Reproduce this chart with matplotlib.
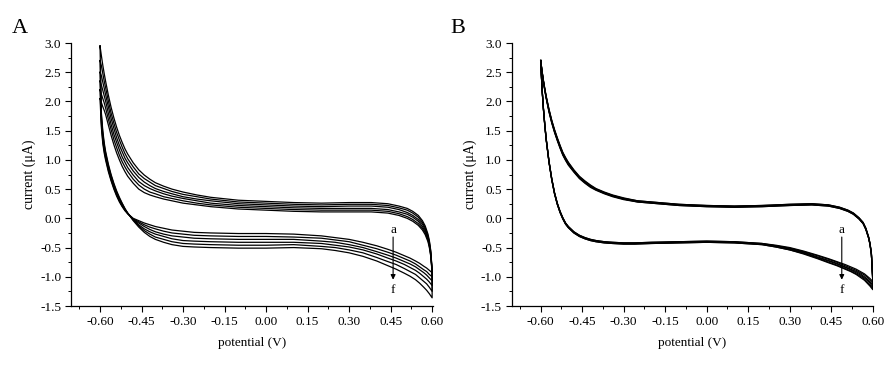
import numpy as np
import matplotlib.pyplot as plt
from matplotlib.ticker import MultipleLocator, FormatStrFormatter

plt.rcParams['font.family'] = ['Liberation Serif', 'DejaVu Serif']
plt.rcParams['axes.unicode_minus'] = False

# potential sampling of the forward (upper) and reverse (lower) sweeps, V
up_x = [-0.600, -0.595, -0.590, -0.585, -0.580, -0.570, -0.560, -0.550, -0.540, -0.530,
        -0.520, -0.510, -0.500, -0.480, -0.460, -0.440, -0.420, -0.400, -0.370, -0.340,
        -0.300, -0.250, -0.200, -0.100, 0.000, 0.100, 0.200, 0.300, 0.380, 0.440,
        0.480, 0.510, 0.530, 0.550, 0.565, 0.575, 0.585, 0.590, 0.595, 0.600]
low_x = [0.600, 0.590, 0.580, 0.570, 0.555, 0.540, 0.520, 0.500, 0.470, 0.440,
         0.400, 0.350, 0.300, 0.250, 0.200, 0.100, 0.000, -0.100, -0.200, -0.260,
         -0.300, -0.340, -0.370, -0.400, -0.420, -0.440, -0.460, -0.480, -0.500, -0.510,
         -0.520, -0.530, -0.540, -0.550, -0.560, -0.570, -0.580, -0.585, -0.590, -0.595, -0.600]

# panel A, current (uA) for curves a..f
A_up = [
    [2.05, 1.98, 1.91, 1.85, 1.78, 1.60, 1.42, 1.26, 1.12, 1.00, 0.89, 0.80, 0.72, 0.60, 0.50, 0.44, 0.40, 0.37, 0.33, 0.30,
     0.26, 0.23, 0.20, 0.16, 0.14, 0.12, 0.11, 0.11, 0.11, 0.09, 0.05, 0.00, -0.05, -0.12, -0.20, -0.28, -0.40, -0.50, -0.65, -0.93],
    [2.20, 2.12, 2.05, 1.98, 1.89, 1.70, 1.52, 1.35, 1.21, 1.08, 0.97, 0.88, 0.80, 0.67, 0.57, 0.50, 0.45, 0.42, 0.37, 0.34,
     0.30, 0.26, 0.23, 0.19, 0.17, 0.15, 0.14, 0.14, 0.14, 0.12, 0.08, 0.03, -0.02, -0.09, -0.17, -0.25, -0.37, -0.48, -0.63, -0.92],
    [2.35, 2.28, 2.19, 2.10, 2.01, 1.80, 1.61, 1.44, 1.30, 1.17, 1.05, 0.96, 0.87, 0.74, 0.63, 0.56, 0.51, 0.47, 0.42, 0.38,
     0.34, 0.30, 0.26, 0.22, 0.20, 0.18, 0.17, 0.17, 0.17, 0.15, 0.11, 0.07, 0.02, -0.05, -0.14, -0.22, -0.35, -0.45, -0.61, -0.91],
    [2.50, 2.44, 2.33, 2.23, 2.12, 1.91, 1.71, 1.54, 1.38, 1.25, 1.14, 1.03, 0.95, 0.81, 0.70, 0.62, 0.56, 0.51, 0.46, 0.42,
     0.37, 0.33, 0.30, 0.25, 0.23, 0.21, 0.20, 0.21, 0.21, 0.19, 0.15, 0.10, 0.05, -0.02, -0.10, -0.19, -0.32, -0.43, -0.59, -0.90],
    [2.70, 2.61, 2.48, 2.35, 2.24, 2.01, 1.80, 1.63, 1.47, 1.34, 1.22, 1.11, 1.02, 0.88, 0.76, 0.68, 0.62, 0.56, 0.51, 0.46,
     0.41, 0.37, 0.33, 0.28, 0.26, 0.24, 0.23, 0.24, 0.24, 0.22, 0.18, 0.14, 0.09, 0.02, -0.07, -0.16, -0.30, -0.40, -0.57, -0.89],
    [2.95, 2.78, 2.62, 2.48, 2.35, 2.11, 1.90, 1.72, 1.56, 1.42, 1.30, 1.19, 1.10, 0.95, 0.83, 0.74, 0.67, 0.61, 0.55, 0.50,
     0.45, 0.40, 0.36, 0.31, 0.29, 0.27, 0.26, 0.27, 0.27, 0.25, 0.21, 0.17, 0.12, 0.05, -0.04, -0.13, -0.27, -0.38, -0.55, -0.88],
]
A_low = [
    [-0.93, -0.89, -0.85, -0.82, -0.77, -0.73, -0.68, -0.64, -0.58, -0.53, -0.47, -0.41, -0.36, -0.33, -0.30, -0.27, -0.26, -0.26, -0.25, -0.24,
     -0.22, -0.20, -0.17, -0.14, -0.11, -0.08, -0.04, 0.00, 0.08, 0.13, 0.20, 0.28, 0.38, 0.50, 0.64, 0.80, 1.00, 1.12, 1.28, 1.55, 2.05],
    [-1.00, -0.96, -0.91, -0.88, -0.83, -0.78, -0.73, -0.69, -0.63, -0.58, -0.52, -0.46, -0.40, -0.37, -0.34, -0.32, -0.31, -0.31, -0.30, -0.29,
     -0.27, -0.25, -0.22, -0.18, -0.15, -0.11, -0.06, -0.01, 0.08, 0.14, 0.21, 0.30, 0.40, 0.52, 0.66, 0.83, 1.03, 1.16, 1.32, 1.60, 2.20],
    [-1.07, -1.02, -0.97, -0.93, -0.88, -0.83, -0.78, -0.74, -0.68, -0.63, -0.57, -0.50, -0.45, -0.41, -0.39, -0.36, -0.36, -0.36, -0.35, -0.34,
     -0.32, -0.30, -0.27, -0.23, -0.19, -0.14, -0.08, -0.02, 0.08, 0.15, 0.22, 0.31, 0.42, 0.54, 0.68, 0.85, 1.06, 1.19, 1.37, 1.65, 2.35],
    [-1.15, -1.09, -1.04, -1.00, -0.94, -0.89, -0.84, -0.79, -0.73, -0.68, -0.61, -0.54, -0.49, -0.46, -0.43, -0.41, -0.41, -0.41, -0.40, -0.39,
     -0.38, -0.35, -0.31, -0.27, -0.23, -0.18, -0.11, -0.02, 0.09, 0.15, 0.24, 0.33, 0.43, 0.56, 0.71, 0.88, 1.09, 1.23, 1.41, 1.70, 2.50],
    [-1.25, -1.18, -1.12, -1.08, -1.02, -0.96, -0.91, -0.86, -0.79, -0.74, -0.67, -0.59, -0.54, -0.50, -0.48, -0.45, -0.46, -0.46, -0.45, -0.44,
     -0.43, -0.40, -0.36, -0.32, -0.27, -0.21, -0.13, -0.03, 0.09, 0.16, 0.25, 0.34, 0.45, 0.58, 0.73, 0.90, 1.12, 1.26, 1.46, 1.75, 2.70],
    [-1.36, -1.29, -1.23, -1.18, -1.11, -1.05, -0.99, -0.94, -0.87, -0.81, -0.73, -0.65, -0.59, -0.55, -0.52, -0.50, -0.51, -0.51, -0.50, -0.49,
     -0.48, -0.45, -0.41, -0.36, -0.31, -0.24, -0.15, -0.04, 0.09, 0.17, 0.26, 0.36, 0.47, 0.60, 0.75, 0.93, 1.15, 1.30, 1.50, 1.80, 2.95],
]

# panel B, current (uA) for curves a..f
B_up = [
    [2.70, 2.50, 2.33, 2.18, 2.05, 1.82, 1.63, 1.47, 1.33, 1.20, 1.08, 0.99, 0.91, 0.79, 0.68, 0.60, 0.53, 0.48, 0.42, 0.37,
     0.32, 0.28, 0.26, 0.22, 0.20, 0.19, 0.20, 0.22, 0.23, 0.21, 0.17, 0.12, 0.07, -0.01, -0.09, -0.19, -0.34, -0.45, -0.62, -1.00],
    [2.70, 2.50, 2.34, 2.19, 2.06, 1.83, 1.64, 1.48, 1.34, 1.21, 1.09, 1.00, 0.92, 0.80, 0.69, 0.61, 0.54, 0.49, 0.43, 0.38,
     0.33, 0.28, 0.26, 0.22, 0.20, 0.19, 0.20, 0.22, 0.23, 0.21, 0.17, 0.12, 0.07, -0.01, -0.09, -0.19, -0.34, -0.45, -0.62, -1.02],
    [2.70, 2.51, 2.34, 2.20, 2.07, 1.84, 1.65, 1.49, 1.35, 1.22, 1.10, 1.01, 0.93, 0.81, 0.70, 0.62, 0.55, 0.49, 0.43, 0.38,
     0.33, 0.29, 0.27, 0.23, 0.21, 0.20, 0.21, 0.23, 0.24, 0.22, 0.18, 0.13, 0.08, 0.00, -0.08, -0.18, -0.33, -0.44, -0.61, -1.04],
    [2.70, 2.51, 2.35, 2.20, 2.07, 1.85, 1.66, 1.50, 1.36, 1.23, 1.11, 1.02, 0.94, 0.81, 0.70, 0.62, 0.55, 0.50, 0.44, 0.39,
     0.34, 0.29, 0.27, 0.23, 0.21, 0.20, 0.21, 0.23, 0.24, 0.22, 0.18, 0.13, 0.08, 0.00, -0.08, -0.18, -0.33, -0.44, -0.61, -1.06],
    [2.70, 2.52, 2.35, 2.21, 2.08, 1.86, 1.67, 1.51, 1.37, 1.24, 1.12, 1.03, 0.95, 0.82, 0.71, 0.63, 0.56, 0.50, 0.44, 0.39,
     0.34, 0.30, 0.28, 0.24, 0.22, 0.21, 0.22, 0.24, 0.25, 0.23, 0.19, 0.14, 0.09, 0.01, -0.07, -0.17, -0.32, -0.43, -0.60, -1.08],
    [2.70, 2.52, 2.36, 2.22, 2.09, 1.87, 1.68, 1.52, 1.38, 1.25, 1.13, 1.04, 0.96, 0.83, 0.72, 0.64, 0.57, 0.51, 0.45, 0.40,
     0.35, 0.30, 0.28, 0.24, 0.22, 0.21, 0.22, 0.24, 0.25, 0.23, 0.19, 0.14, 0.09, 0.01, -0.07, -0.17, -0.32, -0.43, -0.60, -1.10],
]
B_low = [
    [-1.08, -1.03, -0.99, -0.95, -0.91, -0.87, -0.83, -0.79, -0.74, -0.69, -0.63, -0.56, -0.50, -0.46, -0.43, -0.40, -0.39, -0.40, -0.41, -0.42,
     -0.42, -0.41, -0.40, -0.38, -0.36, -0.33, -0.29, -0.23, -0.14, -0.08, 0.01, 0.12, 0.26, 0.44, 0.68, 0.98, 1.36, 1.60, 1.88, 2.22, 2.70],
    [-1.11, -1.06, -1.01, -0.97, -0.93, -0.89, -0.85, -0.81, -0.75, -0.70, -0.64, -0.57, -0.51, -0.47, -0.43, -0.40, -0.39, -0.40, -0.41, -0.42,
     -0.42, -0.41, -0.40, -0.38, -0.36, -0.33, -0.29, -0.23, -0.14, -0.08, 0.01, 0.12, 0.26, 0.44, 0.68, 0.98, 1.36, 1.60, 1.88, 2.22, 2.70],
    [-1.14, -1.09, -1.04, -1.00, -0.95, -0.91, -0.87, -0.83, -0.77, -0.72, -0.66, -0.58, -0.52, -0.47, -0.44, -0.41, -0.40, -0.41, -0.42, -0.43,
     -0.43, -0.42, -0.41, -0.39, -0.37, -0.34, -0.30, -0.24, -0.15, -0.09, 0.00, 0.11, 0.25, 0.43, 0.67, 0.97, 1.35, 1.59, 1.87, 2.22, 2.70],
    [-1.17, -1.11, -1.06, -1.02, -0.97, -0.93, -0.88, -0.84, -0.78, -0.73, -0.67, -0.59, -0.53, -0.48, -0.44, -0.41, -0.40, -0.41, -0.42, -0.43,
     -0.43, -0.42, -0.41, -0.39, -0.37, -0.34, -0.30, -0.24, -0.15, -0.09, 0.00, 0.11, 0.25, 0.43, 0.67, 0.97, 1.35, 1.59, 1.87, 2.21, 2.70],
    [-1.20, -1.14, -1.09, -1.04, -0.99, -0.95, -0.90, -0.86, -0.80, -0.75, -0.68, -0.60, -0.54, -0.49, -0.45, -0.42, -0.41, -0.42, -0.43, -0.44,
     -0.44, -0.43, -0.42, -0.40, -0.38, -0.35, -0.31, -0.25, -0.16, -0.10, -0.01, 0.10, 0.24, 0.42, 0.66, 0.96, 1.34, 1.58, 1.86, 2.21, 2.70],
    [-1.22, -1.16, -1.11, -1.06, -1.01, -0.96, -0.91, -0.87, -0.81, -0.76, -0.69, -0.61, -0.54, -0.49, -0.45, -0.42, -0.41, -0.42, -0.43, -0.44,
     -0.44, -0.43, -0.42, -0.40, -0.38, -0.35, -0.31, -0.25, -0.16, -0.10, -0.01, 0.10, 0.24, 0.42, 0.66, 0.96, 1.34, 1.58, 1.86, 2.21, 2.70],
]

panels = [("A", A_up, A_low, 0.459), ("B", B_up, B_low, 0.488)]

fig = plt.figure(figsize=(8.96, 3.67), dpi=100)
lefts = [0.0792, 0.5710]
letter_x = [0.013, 0.503]

for i, (name, ups, lows, arrow_x) in enumerate(panels):
    ax = fig.add_axes([lefts[i], 0.1662, 0.4037, 0.7166])
    for up, low in zip(ups, lows):
        assert len(up) == len(up_x) and len(low) == len(low_x)
        ax.plot(up_x + low_x, up + low, color='black', lw=0.9, solid_joinstyle='round')

    ax.set_xlim(-0.705, 0.602)
    ax.set_ylim(-1.5, 3.0)
    ax.set_xticks(np.arange(-0.60, 0.61, 0.15))
    ax.xaxis.set_minor_locator(MultipleLocator(0.075))
    ax.yaxis.set_major_locator(MultipleLocator(0.5))
    ax.yaxis.set_minor_locator(MultipleLocator(0.25))
    ax.xaxis.set_major_formatter(FormatStrFormatter('%.2f'))
    ax.yaxis.set_major_formatter(FormatStrFormatter('%.1f'))
    ax.spines['top'].set_visible(False)
    ax.spines['right'].set_visible(False)
    for s in ['left', 'bottom']:
        ax.spines[s].set_linewidth(0.9)
    ax.tick_params(which='major', direction='out', length=4.5, width=0.8, labelsize=9.5, pad=2.5)
    ax.tick_params(which='minor', direction='out', length=2.5, width=0.7)
    ax.set_xlabel('potential (V)', fontsize=9.5, labelpad=7)
    ax.set_ylabel('current (\u03bcA)', fontsize=10, labelpad=3)

    # a -> f arrow
    ax.annotate('', xy=(arrow_x, -1.05), xytext=(arrow_x, -0.32),
                arrowprops=dict(arrowstyle='-|>', color='black', lw=0.8,
                                mutation_scale=7, shrinkA=0, shrinkB=0))
    ax.text(arrow_x, -0.2, 'a', ha='center', va='center', fontsize=9.5)
    ax.text(arrow_x, -1.22, 'f', ha='center', va='center', fontsize=9.5)

    fig.text(letter_x[i], 0.910, name, fontsize=16, ha='left', va='baseline')

fig.savefig('out.png', dpi=100)
